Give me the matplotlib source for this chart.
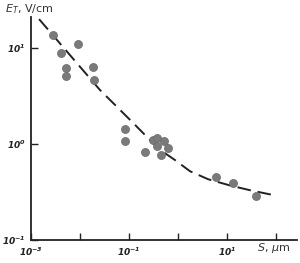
import matplotlib
matplotlib.use("Agg")
import matplotlib.pyplot as plt
import numpy as np

# measured points
S_pts = [0.0028, 0.0091, 0.0041, 0.0052, 0.0052, 0.0186, 0.0193,
         0.083, 0.083, 0.212, 0.31, 0.37, 0.52, 0.37, 0.625, 0.45,
         5.97, 13.2, 39.0]
E_pts = [13.6, 11.0, 8.9, 6.2, 5.1, 6.3, 4.6,
         1.43, 1.07, 0.83, 1.10, 1.15, 1.07, 0.95, 0.91, 0.77,
         0.45, 0.39, 0.29]

# dashed trend curve
S_fit = [0.00146, 0.0256, 0.052, 0.121, 0.268, 0.43, 0.87, 1.76, 4.1, 11.5, 29.5, 100.0]
E_fit = [20.0, 3.65, 2.55, 1.66, 1.10, 0.87, 0.68, 0.52, 0.43, 0.37, 0.33, 0.29]

x_ticks = [1e-3, 1e-2, 1e-1, 1e0, 1e1, 1e2]
x_labels = [r"$\mathbf{10^{-3}}$", "", r"$\mathbf{10^{-1}}$", "", r"$\mathbf{10^{1}}$", ""]
y_ticks = [1e-1, 1e0, 1e1]
y_labels = [r"$\mathbf{10^{-1}}$", r"$\mathbf{10^{0}}$", r"$\mathbf{10^{1}}$"]

plt.rcParams['mathtext.fontset'] = 'custom'
plt.rcParams['mathtext.rm'] = 'DejaVu Sans:italic'
plt.rcParams['mathtext.it'] = 'DejaVu Sans:italic'
plt.rcParams['mathtext.bf'] = 'DejaVu Sans:italic:bold'

fig = plt.figure(figsize=(3.0, 2.63), dpi=100)
ax = fig.add_axes([31/300, (263-240)/263, (297-31)/300, (240-17)/263])
ax.set_xscale('log')
ax.set_yscale('log')
ax.set_xlim(1e-3, 10**(-3 + 266/49))
ax.set_ylim(1e-1, 10**(-1 + 223/96))

ax.plot(S_fit, E_fit, color='#222222', lw=1.4, dashes=(7, 3.5))
ax.plot(S_pts, E_pts, 'o', color='#7a7a7a', ms=5.8, mec='#6a6a6a', mew=0.5)

for s in ['top', 'right']:
    ax.spines[s].set_visible(False)
for s in ['left', 'bottom']:
    ax.spines[s].set_linewidth(1.3)
    ax.spines[s].set_color('#222222')

ax.set_xticks(x_ticks)
ax.set_xticklabels(x_labels)
ax.set_yticks(y_ticks)
ax.set_yticklabels(y_labels)
ax.minorticks_off()
ax.tick_params(axis='both', direction='in', length=5, width=1, colors='#222222',
               labelsize=6.5, labelcolor='#222222')
ax.tick_params(axis='x', pad=4)
ax.tick_params(axis='y', pad=4)

fig.text(5/300, 1 - 9/263, r"$E_T$, V/cm", fontsize=8, color='#333333', va='center', ha='left')
fig.text(257/300, 1 - 248/263, r"$S$, $\mu$m", fontsize=8, color='#333333', va='center', ha='left')

fig.savefig("out.png", dpi=100)
